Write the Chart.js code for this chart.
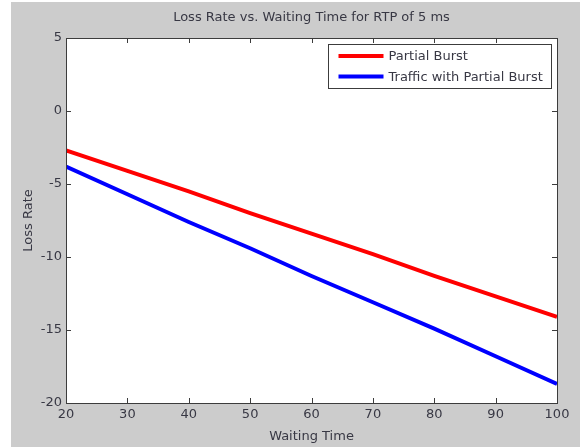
<!DOCTYPE html>
<html lang="en">
<head>
    <meta charset="UTF-8">
    <title>Loss Rate vs. Waiting Time</title>
    <script src="https://cdn.jsdelivr.net/npm/chart.js"></script>
    <style>
        html, body {
            margin: 0;
            padding: 0;
            background: #ffffff;
        }

        .figure {
            position: absolute;
            left: 11px;
            top: 2px;
            width: 569px;
            height: 445px;
            background: #cccccc;
        }
    </style>
</head>
<body>
    <div class="figure">
        <canvas id="lossChart" width="569" height="445"></canvas>
    </div>

    <script>
        // Waiting time samples and the two loss curves
        const waitingTime = [20, 30, 40, 50, 60, 70, 80, 90, 100];
        const partialBurst = [-2.7, -4.1, -5.5, -7.0, -8.4, -9.8, -11.3, -12.7, -14.1];
        const trafficPartialBurst = [-3.8, -5.7, -7.6, -9.4, -11.3, -13.1, -14.9, -16.8, -18.7];

        const xTicks = [20, 30, 40, 50, 60, 70, 80, 90, 100];
        const yTicks = [5, 0, -5, -10, -15, -20];

        const chartTitle = 'Loss Rate vs. Waiting Time for RTP of 5 ms';
        const textColor = '#383844';
        const frameColor = '#3c3c3c';
        const font = { family: 'DejaVu Sans, sans-serif', size: 13 };

        function toPoints(ys) {
            return waitingTime.map((x, i) => ({ x: x, y: ys[i] }));
        }

        // White axes box, frame, inward ticks, title over the axes and the boxed legend
        const matlabAxes = {
            id: 'matlabAxes',
            beforeDraw(chart) {
                const a = chart.chartArea;
                const ctx = chart.ctx;
                ctx.save();
                ctx.fillStyle = '#ffffff';
                ctx.fillRect(a.left, a.top, a.right - a.left, a.bottom - a.top);
                ctx.restore();
            },
            afterDraw(chart) {
                const a = chart.chartArea;
                const ctx = chart.ctx;
                const xs = chart.scales.x;
                const ys = chart.scales.y;
                const len = 5;
                ctx.save();
                ctx.strokeStyle = frameColor;
                ctx.lineWidth = 1;
                ctx.beginPath();
                xTicks.forEach(v => {
                    const px = Math.round(xs.getPixelForValue(v)) + 0.5;
                    ctx.moveTo(px, a.bottom);
                    ctx.lineTo(px, a.bottom - len);
                    ctx.moveTo(px, a.top);
                    ctx.lineTo(px, a.top + len);
                });
                yTicks.forEach(v => {
                    const py = Math.round(ys.getPixelForValue(v)) + 0.5;
                    ctx.moveTo(a.left, py);
                    ctx.lineTo(a.left + len, py);
                    ctx.moveTo(a.right, py);
                    ctx.lineTo(a.right - len, py);
                });
                ctx.stroke();
                ctx.strokeRect(Math.round(a.left) + 0.5, Math.round(a.top) + 0.5,
                    Math.round(a.right - a.left), Math.round(a.bottom - a.top));

                ctx.font = font.size + 'px ' + font.family;
                ctx.fillStyle = textColor;
                ctx.textBaseline = 'middle';
                ctx.textAlign = 'center';
                ctx.fillText(chartTitle, (a.left + a.right) / 2, a.top - 20);

                // legend
                const box = { left: 317.5, top: 42.5, width: 223, height: 44 };
                ctx.fillStyle = '#ffffff';
                ctx.fillRect(box.left, box.top, box.width, box.height);
                ctx.strokeStyle = frameColor;
                ctx.strokeRect(box.left, box.top, box.width, box.height);
                ctx.textAlign = 'left';
                chart.data.datasets.forEach((ds, i) => {
                    const y = box.top + 11.5 + i * 20.5;
                    ctx.strokeStyle = ds.borderColor;
                    ctx.lineWidth = 4;
                    ctx.beginPath();
                    ctx.moveTo(box.left + 10, y);
                    ctx.lineTo(box.left + 55, y);
                    ctx.stroke();
                    ctx.fillStyle = textColor;
                    ctx.fillText(ds.label, box.left + 60, y + 1);
                });
                ctx.restore();
            }
        };

        new Chart(document.getElementById('lossChart'), {
            type: 'line',
            data: {
                datasets: [{
                    label: 'Partial Burst',
                    data: toPoints(partialBurst),
                    borderColor: '#ff0000',
                    borderWidth: 4,
                    pointRadius: 0,
                    tension: 0
                },
                {
                    label: 'Traffic with Partial Burst',
                    data: toPoints(trafficPartialBurst),
                    borderColor: '#0000ff',
                    borderWidth: 4,
                    pointRadius: 0,
                    tension: 0
                }]
            },
            options: {
                responsive: false,
                animation: false,
                layout: { padding: { left: 0, right: 23, top: 36, bottom: 0 } },
                plugins: {
                    legend: { display: false },
                    tooltip: { enabled: false },
                    title: { display: false }
                },
                scales: {
                    x: {
                        type: 'linear',
                        min: 20,
                        max: 100,
                        afterBuildTicks: s => { s.ticks = xTicks.map(v => ({ value: v })); },
                        afterFit: s => { s.height = 44; },
                        grid: { display: false, drawTicks: false },
                        border: { display: false },
                        ticks: { color: textColor, font: font, padding: 4, maxRotation: 0 },
                        title: {
                            display: true,
                            text: 'Waiting Time',
                            color: textColor,
                            font: font,
                            padding: { top: 2, bottom: 3 }
                        }
                    },
                    y: {
                        type: 'linear',
                        min: -20,
                        max: 5,
                        afterBuildTicks: s => { s.ticks = yTicks.map(v => ({ value: v })); },
                        afterFit: s => { s.width = 55; },
                        grid: { display: false, drawTicks: false },
                        border: { display: false },
                        ticks: { color: textColor, font: font, padding: 4 },
                        title: {
                            display: true,
                            text: 'Loss Rate',
                            color: textColor,
                            font: font,
                            padding: { top: 10, bottom: 0 }
                        }
                    }
                }
            },
            plugins: [matlabAxes]
        });
    </script>
</body>
</html>
